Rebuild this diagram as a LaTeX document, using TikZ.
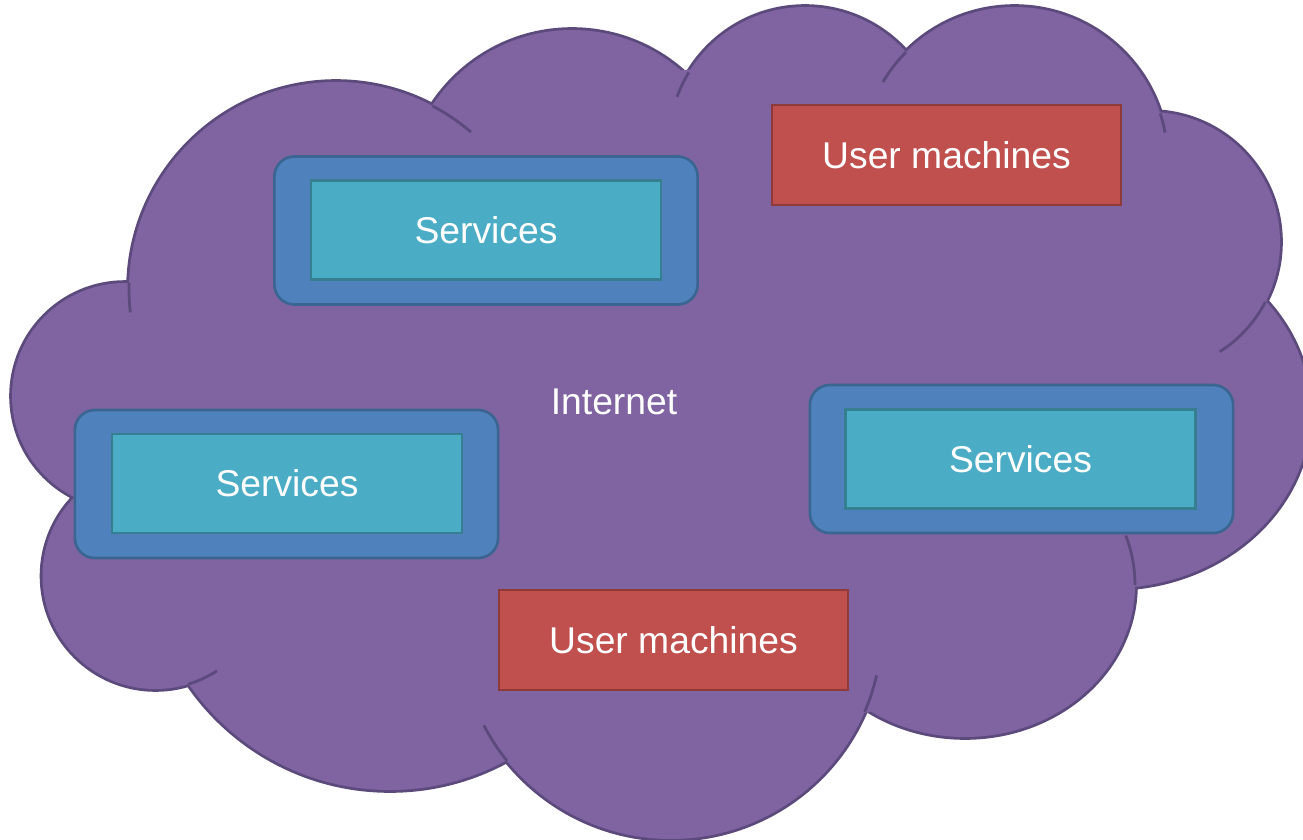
\documentclass[tikz,border=0pt]{standalone}
\usepackage{fontspec}
\setmainfont{Liberation Sans}
\definecolor{cloudfill}{HTML}{8064A2}
\definecolor{cloudedge}{HTML}{5C4A7D}
\definecolor{svcfill}{HTML}{4F81BD}
\definecolor{svcedge}{HTML}{3A6591}
\definecolor{tealfill}{HTML}{4BACC6}
\definecolor{tealedge}{HTML}{357F91}
\definecolor{userfill}{HTML}{C0504D}
\definecolor{useredge}{HTML}{8E3A38}
\newcommand\cloudstub[6]{\draw[cloudline] ([shift={(#3:#5 and #6)}]#1,#2) arc[start angle=#3, end angle=#4, x radius=#5, y radius=#6];}
\begin{document}
\begin{tikzpicture}[x=0.01cm,y=-0.01cm,
  cloudline/.style={draw=cloudedge, line width=0.8pt},
  lbl/.style={text=white, font=\fontsize{10.6}{12}\selectfont},
  svcbox/.style={draw=svcedge, fill=svcfill, line width=0.75pt, rounded corners=0.2cm, minimum width=4.23cm, minimum height=1.48cm, inner sep=0pt},
  svccore/.style={lbl, draw=tealedge, fill=tealfill, line width=0.75pt, minimum width=3.5cm, minimum height=0.99cm, inner sep=0pt},
  userbox/.style={lbl, draw=useredge, fill=userfill, line width=0.75pt, minimum width=3.49cm, minimum height=1.0cm, inner sep=0pt}]
\useasboundingbox (0,0) rectangle (1303,839);
% cloud lobes (centre x / centre y / x radius / y radius)
\foreach \cx/\cy/\rx/\ry in {336/289/207/207, 572/197/167/167, 805/143/136/136, 1014.5/160/153/153, 1150/242/130/130, 1112/412/198/176, 965/585/170/152, 671/628/211/211, 390/546/244/244, 155.5/576/113/113, 125/396/113/113}
  \draw[draw=cloudedge, line width=1.6pt] (\cx,\cy) ellipse[x radius=\rx, y radius=\ry];
\foreach \cx/\cy/\rx/\ry in {336/289/207/207, 572/197/167/167, 805/143/136/136, 1014.5/160/153/153, 1150/242/130/130, 1112/412/198/176, 965/585/170/152, 671/628/211/211, 390/546/244/244, 155.5/576/113/113, 125/396/113/113}
  \fill[cloudfill] (\cx,\cy) ellipse[x radius=\rx, y radius=\ry];
\fill[cloudfill] (129,283) -- (433,105) -- (685,70) -- (906,52) -- (1160,113) -- (1267,303) -- (1133,585) -- (870,712) -- (507,760) -- (188,683) -- (74,497) -- cycle;
% inner stubs of the cloud outline
\cloudstub{336}{289}{181.7}{173.5}{207}{207}
\cloudstub{336}{289}{-62.2}{-49.3}{207}{207}
\cloudstub{805}{143}{-148.7}{-160.2}{136}{136}
\cloudstub{1014.5}{160}{-135.2}{-149.4}{153}{153}
\cloudstub{1014.5}{160}{-17.8}{-10.3}{153}{153}
\cloudstub{1150}{242}{27.5}{57.6}{130}{130}
\cloudstub{965}{585}{0}{-19}{170}{152}
\cloudstub{671}{628}{23.4}{13.0}{211}{211}
\cloudstub{671}{628}{141}{152.5}{211}{211}
\cloudstub{155.5}{576}{73.1}{57}{113}{113}
% label
\node[lbl] (internet) at (614,402) {Internet};
% services
\node[svcbox] (s1o) at (486,230.5) {};
\node[svccore] (s1) at (486,230) {Services};
\node[svcbox] (s2o) at (286.5,484) {};
\node[svccore] (s2) at (287,483.5) {Services};
\node[svcbox] (s3o) at (1021.5,459) {};
\node[svccore] (s3) at (1020.5,459) {Services};
% user machines
\node[userbox] (u1) at (946.5,155) {User machines};
\node[userbox] (u2) at (673.5,640) {User machines};
\end{tikzpicture}
\end{document}
